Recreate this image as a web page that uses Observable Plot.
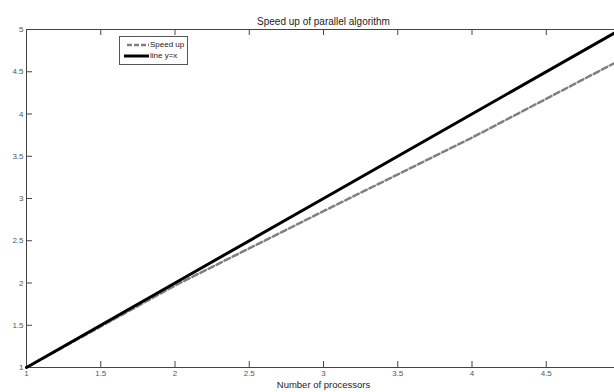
<!DOCTYPE html>
<html>
<head>
<meta charset="utf-8">
<script src="https://cdn.jsdelivr.net/npm/d3@7"></script>
<script src="https://cdn.jsdelivr.net/npm/@observablehq/plot@0.6"></script>
<style>
  html, body { margin: 0; padding: 0; background: #fff; }
  #wrap { position: relative; width: 614px; height: 392px; overflow: hidden; font-family: "Liberation Sans", Arial, sans-serif; }
  #legend { position: absolute; left: 119px; top: 36px; width: 67px; height: 27px; border: 1px solid #555; background: #fff; font-size: 8px; color: #222; }
  #legend div { position: absolute; left: 0; height: 10px; line-height: 10px; }
  #legend svg { position: absolute; left: 3px; top: 0; }
  #legend span { position: absolute; left: 30px; white-space: nowrap; }
</style>
</head>
<body>
<div id="wrap">
  <div id="chart"></div>
  <div id="legend">
    <div style="top:3px;width:67px"><svg width="26" height="10"><line x1="4" y1="5" x2="26" y2="5" stroke="#808080" stroke-width="2.5" stroke-dasharray="5,2"/></svg><span>Speed up</span></div>
    <div style="top:14px;width:67px"><svg width="26" height="10"><line x1="1" y1="5" x2="26" y2="5" stroke="#000" stroke-width="3"/></svg><span>line y=x</span></div>
  </div>
</div>
<script>
const processors = [1, 2, 3, 4, 5];
const speedup = [1, 1.97, 2.85, 3.72, 4.64];
const ideal = [1, 2, 3, 4, 5];
const xTicks = [1, 1.5, 2, 2.5, 3, 3.5, 4, 4.5];
const yTicks = [1, 1.5, 2, 2.5, 3, 3.5, 4, 4.5, 5];
const titleText = "Speed up of parallel algorithm";
const xLabel = "Number of processors";

const speedData = processors.map((p, i) => ({x: p, y: speedup[i]}));
const idealData = processors.map((p, i) => ({x: p, y: ideal[i]}));

const W = 614, H = 392, ML = 26, MT = 29, MB = 25;
const innerW = 594, innerH = H - MT - MB;
const fmt = d => String(d);

const chart = Plot.plot({
  width: W,
  height: H,
  marginLeft: ML,
  marginTop: MT,
  marginBottom: MB,
  marginRight: W - ML - innerW,
  style: {fontFamily: "Liberation Sans, Arial, sans-serif", background: "#fff"},
  x: {domain: [1, 5], range: [ML, ML + innerW]},
  y: {domain: [1, 5]},
  marks: [
    Plot.frame({stroke: "#444", strokeWidth: 1}),
    Plot.tickX(xTicks, {x: d => d, insetTop: innerH - 6, stroke: "#444"}),
    Plot.tickX(xTicks, {x: d => d, insetBottom: innerH - 6, stroke: "#444"}),
    Plot.tickY(yTicks, {y: d => d, insetRight: innerW - 6, stroke: "#444"}),
    Plot.tickY(yTicks, {y: d => d, insetLeft: innerW - 6, stroke: "#444"}),
    Plot.axisX(xTicks, {tickSize: 0, tickPadding: 3, fontSize: 8, fill: "#555", label: null, tickFormat: fmt}),
    Plot.axisY(yTicks, {tickSize: 0, tickPadding: 3, fontSize: 8, fill: "#555", label: null, tickFormat: fmt}),
    Plot.line(speedData, {x: "x", y: "y", stroke: "#808080", strokeWidth: 2.5, strokeDasharray: "6,3"}),
    Plot.line(idealData, {x: "x", y: "y", stroke: "#000", strokeWidth: 3}),
    Plot.text([titleText], {frameAnchor: "top", dy: -12, fontSize: 10, fill: "#222"}),
    Plot.text([xLabel], {frameAnchor: "bottom", dy: 20, fontSize: 9.5, fill: "#222"})
  ]
});
document.getElementById("chart").appendChild(chart);
</script>
</body>
</html>
